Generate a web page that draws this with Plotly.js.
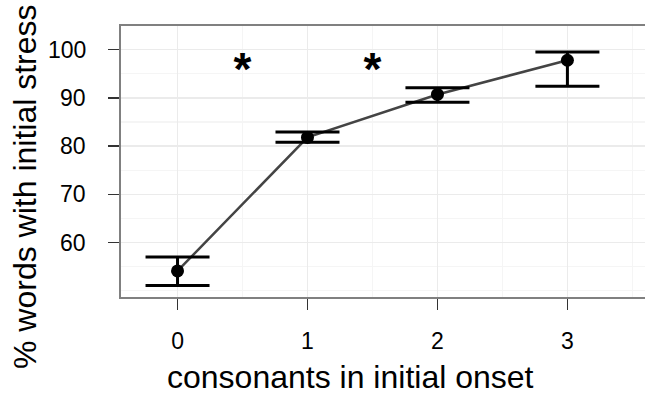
<!DOCTYPE html>
<html>
<head>
<meta charset="utf-8">
<script src="https://cdn.plot.ly/plotly-3.0.1.min.js"></script>
<style>html,body{margin:0;padding:0;background:#fff;}#chart{width:645px;height:396px;}</style>
</head>
<body>
<div id="chart"></div>
<script>
// Data
var consonants = [0, 1, 2, 3];
var meanPct = [54.1, 81.8, 90.7, 97.8];
var upperPct = [57.0, 82.9, 92.1, 99.5];
var lowerPct = [51.1, 80.8, 89.1, 92.4];
var starX = [0.5, 1.5];
var starY = [95.0, 95.0];
var starLabels = ['*', '*'];
var xTickVals = [0, 1, 2, 3];
var xTickText = ['0', '1', '2', '3'];
var yTickVals = [60, 70, 80, 90, 100];
var yTickText = ['60', '70', '80', '90', '100'];
var xTitle = 'consonants in initial onset';
var yTitle = '% words with initial stress';

var errPlus = upperPct.map(function (u, i) { return u - meanPct[i]; });
var errMinus = lowerPct.map(function (l, i) { return meanPct[i] - l; });

var FONT = 'Liberation Sans, Arial, Helvetica, sans-serif';
var PLOT_L = 121, PLOT_W = 524, PLOT_B = 297, PLOT_H = 271;

var traces = [
  {
    x: consonants, y: meanPct, type: 'scatter', mode: 'lines',
    line: {color: '#444444', width: 2.5}, hoverinfo: 'skip', showlegend: false
  },
  {
    x: consonants, y: meanPct, type: 'scatter', mode: 'markers',
    marker: {color: '#000000', size: 13},
    error_y: {type: 'data', symmetric: false, array: errPlus, arrayminus: errMinus,
              color: '#000000', thickness: 3, width: 32},
    showlegend: false
  },
  {
    x: starX, y: starY, type: 'scatter', mode: 'text', text: starLabels,
    textposition: 'middle center',
    textfont: {family: FONT, size: 46, color: '#000000', weight: 'bold'},
    hoverinfo: 'skip', showlegend: false
  }
];

// y tick labels as annotations (placed further from the axis like the reference)
var yLabelAnns = yTickVals.map(function (v, i) {
  return {text: yTickText[i], xref: 'paper', yref: 'y', x: -(PLOT_L - 88) / PLOT_W, y: v,
          xanchor: 'right', yanchor: 'middle', showarrow: false,
          font: {family: FONT, size: 23, color: '#000000'}};
});

var layout = {
  width: 645, height: 396,
  margin: {l: PLOT_L, r: 0, t: 26, b: 99, pad: 0},
  paper_bgcolor: '#ffffff', plot_bgcolor: '#ffffff',
  font: {family: FONT, color: '#000000'},
  showlegend: false,
  xaxis: {
    range: [-0.435, 3.597], tickvals: xTickVals, ticktext: xTickText,
    showgrid: true, gridcolor: '#ebebeb', gridwidth: 1.5, zeroline: false,
    minor: {dtick: 0.5, tick0: 0, showgrid: true, gridcolor: '#f5f5f5', gridwidth: 1.2, ticks: ''},
    showline: true, linecolor: '#808080', linewidth: 2, mirror: true,
    ticks: 'outside', ticklen: 11, tickwidth: 1.5, tickcolor: '#333333',
    tickfont: {family: FONT, size: 23, color: '#000000'},
    ticklabelstandoff: 11
  },
  yaxis: {
    range: [48.7, 104.9], tickvals: yTickVals, showticklabels: false,
    showgrid: true, gridcolor: '#ebebeb', gridwidth: 1.5, zeroline: false,
    minor: {dtick: 5, tick0: 0, showgrid: true, gridcolor: '#f5f5f5', gridwidth: 1.2, ticks: ''},
    showline: true, linecolor: '#808080', linewidth: 2, mirror: false,
    ticks: 'outside', ticklen: 11, tickwidth: 1.5, tickcolor: '#333333'
  },
  annotations: yLabelAnns.concat([
    {text: xTitle, xref: 'paper', yref: 'paper', x: (350 - PLOT_L) / PLOT_W, y: -(377 - PLOT_B) / PLOT_H,
     xanchor: 'center', yanchor: 'middle', showarrow: false,
     font: {family: FONT, size: 32, color: '#000000'}},
    {text: yTitle, xref: 'paper', yref: 'paper', x: -(PLOT_L - 25) / PLOT_W, y: (PLOT_B - 187) / PLOT_H,
     xanchor: 'center', yanchor: 'middle', showarrow: false, textangle: -90,
     font: {family: FONT, size: 32, color: '#000000'}}
  ])
};

Plotly.newPlot('chart', traces, layout, {displayModeBar: false, staticPlot: true});
</script>
</body>
</html>
